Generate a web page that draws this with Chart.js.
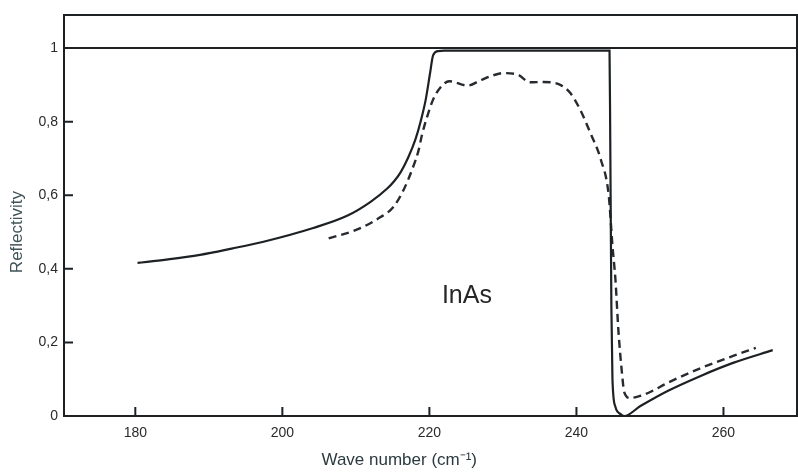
<!DOCTYPE html>
<html>
<head>
<meta charset="utf-8">
<title>InAs reflectivity</title>
<script src="https://cdn.jsdelivr.net/npm/chart.js@4.4.0/dist/chart.umd.min.js"></script>
<style>
    html, body { margin: 0; padding: 0; background: #fff; }
    #wrap { width: 798px; height: 475px; }
</style>
</head>
<body>
<div id="wrap"><canvas id="chart" width="798" height="475"></canvas></div>
<script>
// solid curve (wave number in cm-1, reflectivity)
const solidWave = [180.3, 184.2, 188.8, 193.1, 197.3, 204.2, 208.8, 212.0, 214.3, 215.2, 216.1, 217.1, 218.1, 218.8, 219.5, 220.1, 220.5, 221.2, 222.0, 230.0, 238.0, 244.5, 244.6, 244.75, 244.9, 245.3, 246.0, 246.5, 248.7, 252.4, 256.9, 261.4, 266.7];
const solidRefl = [0.416, 0.425, 0.438, 0.455, 0.473, 0.511, 0.544, 0.582, 0.619, 0.638, 0.663, 0.702, 0.752, 0.800, 0.860, 0.933, 0.980, 0.992, 0.993, 0.993, 0.993, 0.993, 0.75, 0.30, 0.10, 0.025, 0.005, 0.0, 0.027, 0.068, 0.109, 0.145, 0.179];

// dashed curve
const dashedWave = [206.3, 210.2, 213.3, 215.1, 216.5, 217.75, 218.5, 219.0, 219.7, 220.5, 221.5, 222.7, 225.2, 226.9, 228.5, 230.1, 232.0, 233.7, 235.5, 237.8, 239.2, 240.5, 241.9, 243.3, 244.4, 244.9, 245.3, 245.7, 246.2, 246.5, 247.3, 248.7, 250.1, 252.4, 256.9, 261.4, 264.4];
const dashedRefl = [0.483, 0.507, 0.540, 0.568, 0.615, 0.675, 0.720, 0.765, 0.814, 0.860, 0.893, 0.910, 0.898, 0.912, 0.925, 0.932, 0.928, 0.907, 0.908, 0.900, 0.877, 0.833, 0.769, 0.698, 0.598, 0.462, 0.372, 0.235, 0.115, 0.065, 0.049, 0.055, 0.066, 0.090, 0.130, 0.164, 0.185];

const xTicks = [180, 200, 220, 240, 260];
const yTicks = [0, 0.2, 0.4, 0.6, 0.8, 1];
const yTickLabels = ['0', '0,2', '0,4', '0,6', '0,8', '1'];
const xTitle = 'Wave number (cm\u207B\u00B9)';
const yTitle = 'Reflectivity';
const sampleName = 'InAs';

const ink = '#1d2124';

const toPoints = (xs, ys) => xs.map((x, i) => ({ x, y: ys[i] }));

// frame on top/right, inward tick marks and the texts
const framePlugin = {
    id: 'frame',
    afterDraw(chart) {
        const { ctx, chartArea: a, scales: { x, y } } = chart;
        ctx.save();
        ctx.strokeStyle = ink;
        ctx.lineWidth = 2;
        ctx.beginPath();
        ctx.moveTo(a.left, a.top);
        ctx.lineTo(a.right, a.top);
        ctx.lineTo(a.right, a.bottom);
        x.ticks.forEach(t => {
            const px = x.getPixelForValue(t.value);
            ctx.moveTo(px, a.bottom);
            ctx.lineTo(px, a.bottom - 9);
        });
        y.ticks.forEach(t => {
            const py = y.getPixelForValue(t.value);
            ctx.moveTo(a.left, py);
            ctx.lineTo(a.left + 9, py);
        });
        ctx.stroke();

        ctx.fillStyle = '#262626';
        ctx.textBaseline = 'middle';
        ctx.font = '25px "Liberation Sans", sans-serif';
        ctx.textAlign = 'left';
        ctx.fillText(sampleName, x.getPixelForValue(221.7), y.getPixelForValue(0.327));

        ctx.fillStyle = '#2b3a3f';
        ctx.font = '17px "Liberation Sans", sans-serif';
        ctx.textAlign = 'center';
        ctx.fillText(xTitle, x.getPixelForValue(215.9), 460);

        ctx.translate(17, y.getPixelForValue(0.5));
        ctx.rotate(-Math.PI / 2);
        ctx.fillStyle = '#3f5358';
        ctx.font = '17px "Liberation Sans", sans-serif';
        ctx.fillText(yTitle, 0, 0);
        ctx.restore();
    }
};

new Chart(document.getElementById('chart'), {
    type: 'line',
    data: {
        datasets: [
            {
                label: 'solid',
                data: toPoints(solidWave, solidRefl),
                borderColor: ink,
                borderWidth: 2.2,
                pointRadius: 0,
                cubicInterpolationMode: 'monotone',
                fill: false
            },
            {
                label: 'dashed',
                data: toPoints(dashedWave, dashedRefl),
                borderColor: '#272b30',
                borderWidth: 2.4,
                borderDash: [8, 5],
                pointRadius: 0,
                cubicInterpolationMode: 'monotone',
                fill: false
            }
        ]
    },
    options: {
        responsive: false,
        animation: false,
        layout: { padding: { top: 15, right: 1, left: 0, bottom: 0 } },
        plugins: {
            legend: { display: false },
            tooltip: { enabled: false }
        },
        scales: {
            x: {
                type: 'linear',
                min: 170.3,
                max: 270,
                afterFit: axis => { axis.height = 59; },
                afterBuildTicks: axis => { axis.ticks = xTicks.map(v => ({ value: v })); },
                border: { display: true, color: ink, width: 2 },
                grid: { display: false, drawTicks: false },
                ticks: {
                    padding: 9,
                    color: '#2a2a2a',
                    font: { family: '"Liberation Sans", sans-serif', size: 14 },
                    callback: v => String(v)
                }
            },
            y: {
                type: 'linear',
                min: 0,
                max: 1.09,
                afterFit: axis => { axis.width = 64; },
                afterBuildTicks: axis => { axis.ticks = yTicks.map(v => ({ value: v })); },
                border: { display: true, color: ink, width: 2 },
                grid: {
                    drawTicks: false,
                    lineWidth: 2,
                    color: c => (c.tick && c.tick.value === 1) ? ink : 'rgba(0,0,0,0)'
                },
                ticks: {
                    padding: 6,
                    color: '#2a2a2a',
                    font: { family: '"Liberation Sans", sans-serif', size: 14 },
                    callback: v => yTickLabels[yTicks.indexOf(v)]
                }
            }
        }
    },
    plugins: [framePlugin]
});
</script>
</body>
</html>
